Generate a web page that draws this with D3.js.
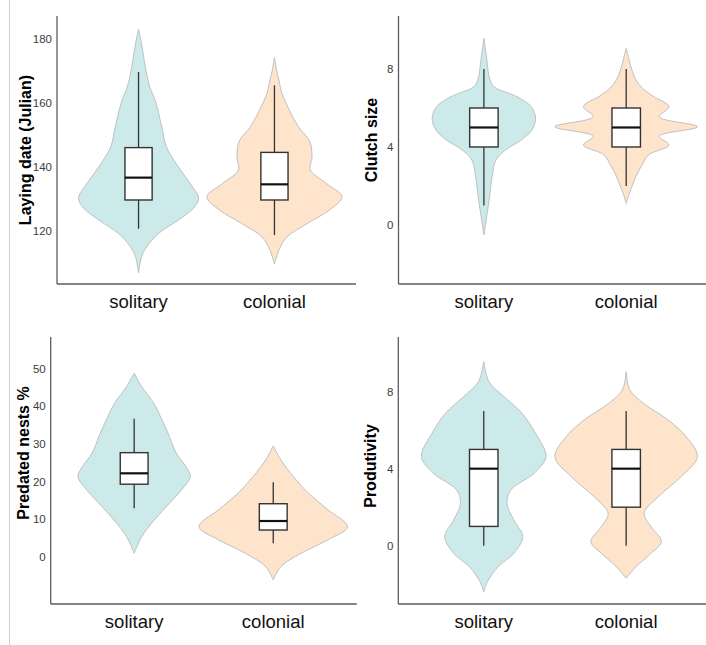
<!DOCTYPE html>
<html>
<head>
<meta charset="utf-8">
<script src="https://cdnjs.cloudflare.com/ajax/libs/d3/7.8.5/d3.min.js"></script>
<style>
  body { margin: 0; background: #fff; }
  text { font-family: "Liberation Sans", Arial, sans-serif; }
</style>
</head>
<body>
<div id="chart"></div>
<script>
// data
var groups = ["solitary", "colonial"];
var titles = ["Laying date (Julian)", "Clutch size", "Predated nests %", "Produtivity"];

var layingTicks = [120, 140, 160, 180];
var clutchTicks = [0, 4, 8];
var predatedTicks = [0, 10, 20, 30, 40, 50];
var prodTicks = [0, 4, 8];

var layingDomain = [103.3, 187.2];
var clutchDomain = [-3.03, 10.72];
var predatedDomain = [-12.6, 58.5];
var prodDomain = [-3.03, 10.84];

// violin outlines: [value, relative density]
var layingSolitary = [[183.0, 0], [178.6, 0.04], [171.3, 0.09], [165, 0.15], [160.9, 0.22], [152.5, 0.31], [146.3, 0.37], [140, 0.53], [133.7, 0.72], [130.3, 0.80], [127.5, 0.75], [123.3, 0.53], [119.2, 0.27], [115, 0.11], [111.8, 0.04], [106.8, 0]];
var layingColonial = [[174.2, 0], [170, 0.03], [167.1, 0.06], [163, 0.1], [157.7, 0.2], [152.5, 0.32], [148, 0.47], [143.1, 0.5], [139, 0.48], [134.8, 0.69], [130.6, 0.9], [126.4, 0.73], [122.3, 0.44], [118.1, 0.17], [114.5, 0.07], [109.5, 0]];
var clutchSolitary = [[9.57, 0], [8.46, 0.04], [7.6, 0.07], [7.1, 0.13], [6.8, 0.3], [6.58, 0.44], [6.07, 0.63], [5.47, 0.69], [4.87, 0.64], [4.36, 0.5], [3.85, 0.29], [3.33, 0.16], [2.48, 0.11], [1.28, 0.07], [0.26, 0.03], [-0.51, 0]];
var clutchColonial = [[9.06, 0], [8.46, 0.04], [7.9, 0.08], [7.44, 0.13], [7.0, 0.22], [6.6, 0.36], [6.07, 0.57], [5.55, 0.44], [5.04, 0.95], [4.55, 0.44], [4.1, 0.57], [3.6, 0.3], [3.0, 0.2], [2.5, 0.13], [2.0, 0.08], [1.5, 0.03], [1.1, 0]];
var predatedSolitary = [[48.9, 0], [45.3, 0.1], [40.9, 0.26], [36.5, 0.37], [32, 0.47], [27.6, 0.56], [24, 0.69], [21.3, 0.75], [18.7, 0.67], [14.2, 0.47], [9.8, 0.27], [5.3, 0.1], [0.9, 0]];
var predatedColonial = [[29.5, 0], [25.8, 0.1], [21.3, 0.27], [16.9, 0.47], [12.5, 0.73], [8, 0.99], [4.5, 0.73], [0.9, 0.37], [-2.7, 0.1], [-6.2, 0]];
var prodSolitary = [[9.56, 0], [8.52, 0.07], [7.74, 0.27], [6.88, 0.51], [5.84, 0.69], [4.62, 0.83], [3.76, 0.67], [2.89, 0.36], [2.2, 0.31], [1.34, 0.4], [0.47, 0.52], [-0.4, 0.4], [-1.1, 0.19], [-1.87, 0.05], [-2.4, 0]];
var prodColonial = [[9.04, 0], [8.09, 0.05], [7.4, 0.23], [6.53, 0.56], [5.66, 0.8], [4.62, 0.95], [3.58, 0.73], [2.55, 0.43], [1.68, 0.24], [0.99, 0.33], [0.21, 0.47], [-0.4, 0.33], [-1.1, 0.13], [-1.69, 0]];

// boxes: [lower whisker, q1, median, q3, upper whisker]
var layingBoxes = [[120.6, 129.6, 136.6, 146, 169.7], [118.6, 129.6, 134.5, 144.5, 165.5]];
var clutchBoxes = [[1, 4, 5, 6, 8], [2, 4, 5, 6, 8]];
var predatedBoxes = [[12.9, 19.3, 22.2, 27.7, 36.7], [3.6, 7.1, 9.5, 14.1, 19.8]];
var prodBoxes = [[0, 1, 4, 5, 7], [0, 2, 4, 5, 7]];

var colors = ["#cdeaea", "#fde4cb"];

var panels = [
  {left: 57, right: 356, top: 16, bottom: 284, titleX: 31, titleY: 150, ticks: layingTicks, domain: layingDomain, violins: [layingSolitary, layingColonial], boxes: layingBoxes},
  {left: 398.5, right: 711.6, top: 16, bottom: 284, titleX: 377, titleY: 140, ticks: clutchTicks, domain: clutchDomain, violins: [clutchSolitary, clutchColonial], boxes: clutchBoxes},
  {left: 50.7, right: 356.7, top: 337, bottom: 604, titleX: 29, titleY: 453, ticks: predatedTicks, domain: predatedDomain, violins: [predatedSolitary, predatedColonial], boxes: predatedBoxes},
  {left: 398.3, right: 711.6, top: 337, bottom: 604, titleX: 376, titleY: 466, ticks: prodTicks, domain: prodDomain, violins: [prodSolitary, prodColonial], boxes: prodBoxes}
];

var svg = d3.select("#chart")
  .append("svg")
  .attr("width", 706)
  .attr("height", 645);

svg.append("rect").attr("width", 706).attr("height", 645).attr("fill", "#fff");

// thin frame line on the left
svg.append("line")
  .attr("x1", 9.5).attr("x2", 9.5)
  .attr("y1", 0).attr("y2", 645)
  .attr("stroke", "#cfcfcf")
  .attr("stroke-width", 1);

// shared width scale for the violins
var w = d3.scaleLinear().domain([0, 1]).range([0, 75]);

panels.forEach(function(p, k) {
  var x = d3.scalePoint()
    .domain(groups)
    .range([p.left, p.right])
    .padding(0.6);
  var y = d3.scaleLinear()
    .domain(p.domain)
    .range([p.bottom, p.top]);
  var step = x.step();

  var g = svg.append("g");

  // violins
  p.violins.forEach(function(v, i) {
    var cx = x(groups[i]);
    var area = d3.area()
      .curve(d3.curveCatmullRom.alpha(0.5))
      .y(function(d) { return y(d[0]); })
      .x0(function(d) { return cx - w(d[1]); })
      .x1(function(d) { return cx + w(d[1]); });
    g.append("path")
      .datum(v)
      .attr("d", area)
      .attr("fill", colors[i])
      .attr("stroke", "#c0c0c0")
      .attr("stroke-width", 1);
  });

  // box plots
  var bw = step * 0.2;
  p.boxes.forEach(function(b, i) {
    var cx = x(groups[i]);
    g.append("line")
      .attr("x1", cx).attr("x2", cx)
      .attr("y1", y(b[0])).attr("y2", y(b[4]))
      .attr("stroke", "#333")
      .attr("stroke-width", 1.3);
    g.append("rect")
      .attr("x", cx - bw / 2)
      .attr("width", bw)
      .attr("y", y(b[3]))
      .attr("height", y(b[1]) - y(b[3]))
      .attr("fill", "#fff")
      .attr("stroke", "#333")
      .attr("stroke-width", 1.4);
    g.append("line")
      .attr("x1", cx - bw / 2).attr("x2", cx + bw / 2)
      .attr("y1", y(b[2])).attr("y2", y(b[2]))
      .attr("stroke", "#111")
      .attr("stroke-width", 2.2);
  });

  // axes lines
  g.append("line")
    .attr("x1", p.left).attr("x2", p.left)
    .attr("y1", p.top).attr("y2", p.bottom)
    .attr("stroke", "#5c5c5c").attr("stroke-width", 1.3);
  g.append("line")
    .attr("x1", p.left).attr("x2", p.right)
    .attr("y1", p.bottom).attr("y2", p.bottom)
    .attr("stroke", "#5c5c5c").attr("stroke-width", 1.3);

  // tick labels
  g.selectAll(".tick")
    .data(p.ticks)
    .enter()
    .append("text")
    .attr("x", p.left - 5)
    .attr("y", function(d) { return y(d); })
    .attr("dy", "0.35em")
    .attr("text-anchor", "end")
    .attr("font-size", 11.5)
    .attr("fill", "#3d3d3d")
    .text(function(d) { return d; });

  // category labels
  g.selectAll(".cat")
    .data(groups)
    .enter()
    .append("text")
    .attr("x", function(d) { return x(d); })
    .attr("y", p.bottom + 24)
    .attr("text-anchor", "middle")
    .attr("font-size", 18.5)
    .attr("fill", "#111")
    .text(function(d) { return d; });

  // y title
  g.append("text")
    .attr("transform", "translate(" + p.titleX + "," + p.titleY + ") rotate(-90)")
    .attr("text-anchor", "middle")
    .attr("font-size", 16)
    .attr("font-weight", "bold")
    .attr("fill", "#000")
    .text(titles[k]);
});
</script>
</body>
</html>
